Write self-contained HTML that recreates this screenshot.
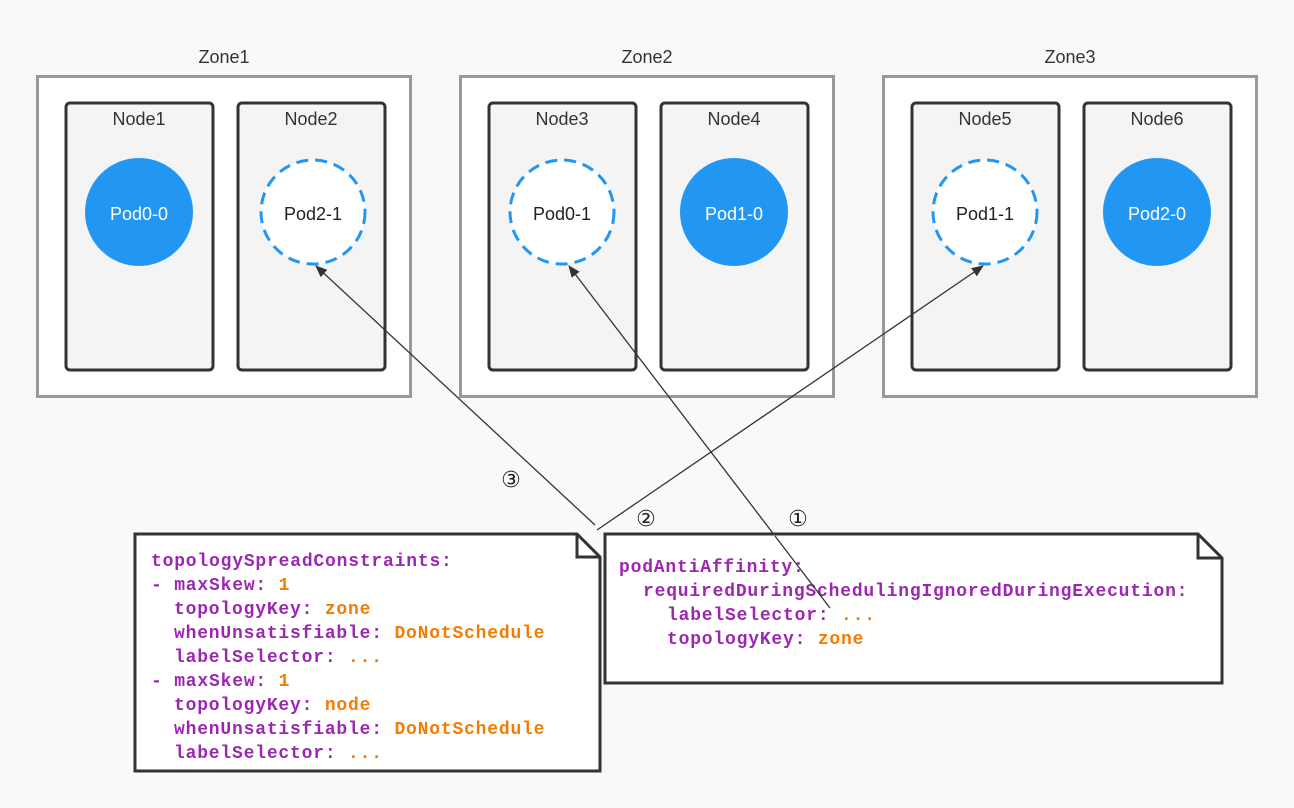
<!DOCTYPE html>
<html><head><meta charset="utf-8"><style>
html,body{margin:0;padding:0;background:#f9f9f9;}
svg{display:block;}
.lbl{font-family:"Liberation Sans",sans-serif;font-size:18px;fill:#333;text-anchor:middle;}
.pod{font-family:"Liberation Sans",sans-serif;font-size:18px;text-anchor:middle;}
.num{font-family:"DejaVu Sans",sans-serif;font-size:22px;text-anchor:middle;fill:#222;}
.code{font-family:"Liberation Mono",monospace;font-size:18px;font-weight:bold;letter-spacing:0.8px;}
.k{fill:#9c27b0;} .v{fill:#f57c00;}
</style></head><body>
<svg width="1294" height="808" viewBox="0 0 1294 808" xmlns="http://www.w3.org/2000/svg">
<defs><marker id="ar" markerWidth="12" markerHeight="10" refX="11" refY="5" orient="auto" markerUnits="userSpaceOnUse"><path d="M0,0 L12,5 L0,10 Z" fill="#333"/></marker></defs>
<rect width="1294" height="808" fill="#f9f9f9"/>
<g stroke="#999" stroke-width="3" fill="#fff">
<rect x="37.5" y="76.5" width="373" height="320"/>
<rect x="460.5" y="76.5" width="373" height="320"/>
<rect x="883.5" y="76.5" width="373" height="320"/>
</g>
<text class="lbl" x="224" y="63">Zone1</text>
<text class="lbl" x="647" y="63">Zone2</text>
<text class="lbl" x="1070" y="63">Zone3</text>
<g stroke="#333" stroke-width="3" fill="#f4f4f4">
<rect x="66" y="103" width="147" height="267" rx="4"/>
<rect x="238" y="103" width="147" height="267" rx="4"/>
<rect x="489" y="103" width="147" height="267" rx="4"/>
<rect x="661" y="103" width="147" height="267" rx="4"/>
<rect x="912" y="103" width="147" height="267" rx="4"/>
<rect x="1084" y="103" width="147" height="267" rx="4"/>
</g>
<text class="lbl" x="139" y="125">Node1</text>
<text class="lbl" x="311" y="125">Node2</text>
<text class="lbl" x="562" y="125">Node3</text>
<text class="lbl" x="734" y="125">Node4</text>
<text class="lbl" x="985" y="125">Node5</text>
<text class="lbl" x="1157" y="125">Node6</text>
<g fill="#2196f3">
<circle cx="139" cy="212" r="54"/>
<circle cx="734" cy="212" r="54"/>
<circle cx="1157" cy="212" r="54"/>
</g>
<g fill="#fff" stroke="#2196f3" stroke-width="3" stroke-dasharray="12,7">
<circle cx="313" cy="212" r="52"/>
<circle cx="562" cy="212" r="52"/>
<circle cx="985" cy="212" r="52"/>
</g>
<text class="pod" x="139" y="220" fill="#fff">Pod0-0</text>
<text class="pod" x="734" y="220" fill="#fff">Pod1-0</text>
<text class="pod" x="1157" y="220" fill="#fff">Pod2-0</text>
<text class="pod" x="313" y="220" fill="#222">Pod2-1</text>
<text class="pod" x="562" y="220" fill="#222">Pod0-1</text>
<text class="pod" x="985" y="220" fill="#222">Pod1-1</text>
<g stroke="#333" stroke-width="1.3" fill="none">
<line x1="595" y1="525" x2="316" y2="266" marker-end="url(#ar)"/>
<line x1="597" y1="530" x2="983" y2="266" marker-end="url(#ar)"/>
<line x1="830" y1="608" x2="569" y2="266" marker-end="url(#ar)"/>
</g>
<text class="num" x="511" y="487">③</text>
<text class="num" x="646" y="526">②</text>
<text class="num" x="798" y="526">①</text>
<g stroke="#333" stroke-width="3" fill="#fff">
<path d="M135,534 H577 L600,557 V771 H135 Z"/>
<path d="M577,534 V557 H600" fill="none"/>
<path d="M605,534 H1198 L1222,558 V683 H605 Z"/>
<path d="M1198,534 V558 H1222" fill="none"/>
</g>
<g class="code">
<text x="151" y="566"><tspan class="k">topologySpreadConstraints:</tspan></text>
<text x="151" y="590"><tspan class="k">- maxSkew: </tspan><tspan class="v">1</tspan></text>
<text x="174" y="614"><tspan class="k">topologyKey: </tspan><tspan class="v">zone</tspan></text>
<text x="174" y="638"><tspan class="k">whenUnsatisfiable: </tspan><tspan class="v">DoNotSchedule</tspan></text>
<text x="174" y="662"><tspan class="k">labelSelector: </tspan><tspan class="v">...</tspan></text>
<text x="151" y="686"><tspan class="k">- maxSkew: </tspan><tspan class="v">1</tspan></text>
<text x="174" y="710"><tspan class="k">topologyKey: </tspan><tspan class="v">node</tspan></text>
<text x="174" y="734"><tspan class="k">whenUnsatisfiable: </tspan><tspan class="v">DoNotSchedule</tspan></text>
<text x="174" y="758"><tspan class="k">labelSelector: </tspan><tspan class="v">...</tspan></text>
<text x="619" y="572"><tspan class="k">podAntiAffinity:</tspan></text>
<text x="643" y="596"><tspan class="k">requiredDuringSchedulingIgnoredDuringExecution:</tspan></text>
<text x="667" y="620"><tspan class="k">labelSelector: </tspan><tspan class="v">...</tspan></text>
<text x="667" y="644"><tspan class="k">topologyKey: </tspan><tspan class="v">zone</tspan></text>
</g>
<line x1="830" y1="608" x2="775" y2="536" stroke="#333" stroke-width="1.3"/>
</svg>
</body></html>
